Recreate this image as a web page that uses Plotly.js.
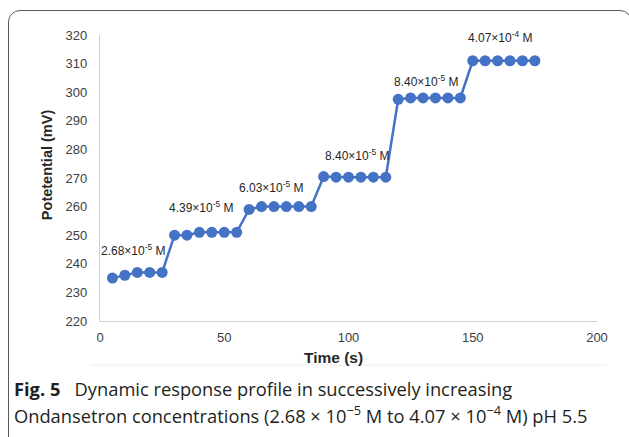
<!DOCTYPE html>
<html>
<head>
<meta charset="utf-8">
<script src="https://cdn.plot.ly/plotly-3.0.1.min.js"></script>
<style>
  html, body { margin: 0; padding: 0; background: #ffffff; }
  #wrap { position: relative; width: 629px; height: 437px; overflow: hidden; background: #fff; }
  #frame { position: absolute; left: 8px; top: 10px; width: 624px; height: 440px;
           border: 1.3px solid #5a5a5a; border-radius: 12px; box-sizing: border-box; }
  #chart { position: absolute; left: 0; top: 0; width: 629px; height: 437px; }
</style>
</head>
<body>
<div id="wrap">
  <div id="frame"></div>
  <div id="chart"></div>
</div>
<script>
// ---- data ----
const time = [5, 10, 15, 20, 25,
              30, 35, 40, 45, 50, 55,
              60, 65, 70, 75, 80, 85,
              90, 95, 100, 105, 110, 115,
              120, 125, 130, 135, 140, 145,
              150, 155, 160, 165, 170, 175];
const potential = [235, 236, 237, 237, 237,
                   250, 250, 251, 251, 251, 251,
                   259, 260, 260, 260, 260, 260,
                   270.5, 270.3, 270.3, 270.3, 270.3, 270.3,
                   297.5, 298, 298, 298, 298, 298,
                   311, 311, 311, 311, 311, 311];
const concLabels = ['2.68×10<sup>-5</sup> M', '4.39×10<sup>-5</sup> M', '6.03×10<sup>-5</sup> M',
                    '8.40×10<sup>-5</sup> M', '8.40×10<sup>-5</sup> M', '4.07×10<sup>-4</sup> M'];
const xTickVals = [0, 50, 100, 150, 200];
const yTickVals = [220, 230, 240, 250, 260, 270, 280, 290, 300, 310, 320];
const xTitle = 'Time (s)';
const yTitle = 'Potetential (mV)';
const captionLine1 = '<b>Fig. 5</b>&nbsp;&nbsp;&nbsp;Dynamic response profile in successively increasing';
const captionLine2 = 'Ondansetron concentrations (2.68 × 10<sup>−5</sup> M to 4.07 × 10<sup>−4</sup> M) pH 5.5';

// ---- layout ----
const sans = 'Liberation Sans, Arial, sans-serif';
const labelPos = [[13.5, 245], [41, 260], [69, 266.8], [103.5, 278.2], [131.5, 303.8], [161, 319.2]];
const annotations = concLabels.map((t, i) => ({
  x: labelPos[i][0], y: labelPos[i][1], xref: 'x', yref: 'y', text: t, showarrow: false,
  xanchor: 'center', yanchor: 'middle',
  font: { family: sans, size: 12, color: '#262626' }
}));
// axis titles (offset from axis centre as in the reference)
annotations.push({ xref: 'paper', yref: 'paper', x: 0.469, y: -0.129, xanchor: 'center', yanchor: 'middle',
  text: '<b>' + xTitle + '</b>', showarrow: false, font: { family: sans, size: 15.5, color: '#262626' } });
annotations.push({ xref: 'paper', yref: 'paper', x: -0.1066, y: 0.545, xanchor: 'center', yanchor: 'middle',
  textangle: -90, text: '<b>' + yTitle + '</b>', showarrow: false,
  font: { family: sans, size: 14.5, color: '#262626' } });
// caption
const capFont = { family: 'Open Sans, Noto Sans, sans-serif', size: 18.3, color: '#231f20' };
annotations.push({ xref: 'paper', yref: 'paper', x: -0.177, y: -0.2343, xanchor: 'left', yanchor: 'middle',
  text: captionLine1, showarrow: false, align: 'left', font: capFont });
annotations.push({ xref: 'paper', yref: 'paper', x: -0.177, y: -0.3252, xanchor: 'left', yanchor: 'middle',
  text: captionLine2, showarrow: false, align: 'left', font: capFont });

const trace = {
  x: time, y: potential, type: 'scatter', mode: 'lines+markers',
  line: { color: '#4472C4', width: 2.5 },
  marker: { color: '#4472C4', size: 11 },
  hoverinfo: 'none'
};

const layout = {
  width: 629, height: 437,
  margin: { l: 100, r: 32, t: 35, b: 116, pad: 0 },
  paper_bgcolor: 'rgba(0,0,0,0)', plot_bgcolor: 'rgba(0,0,0,0)',
  showlegend: false,
  xaxis: {
    range: [0, 200], tickvals: xTickVals, showgrid: false, zeroline: false,
    showline: true, linecolor: '#d0d0d0', linewidth: 1.2, ticks: '',
    ticklabelstandoff: 4,
    tickfont: { family: sans, size: 13, color: '#404040' }
  },
  yaxis: {
    range: [220, 320], tickvals: yTickVals, showgrid: false, zeroline: false,
    showline: true, linecolor: '#d0d0d0', linewidth: 1.2, ticks: '',
    ticklabelstandoff: 9,
    tickfont: { family: sans, size: 13, color: '#404040' }
  },
  annotations: annotations,
  shapes: [{
    type: 'line', xref: 'paper', yref: 'paper', x0: -0.02, x1: 1.02, y0: -0.154, y1: -0.154,
    line: { color: '#ececec', width: 1 }
  }]
};

Plotly.newPlot('chart', [trace], layout, { displayModeBar: false, staticPlot: true });
</script>
</body>
</html>
